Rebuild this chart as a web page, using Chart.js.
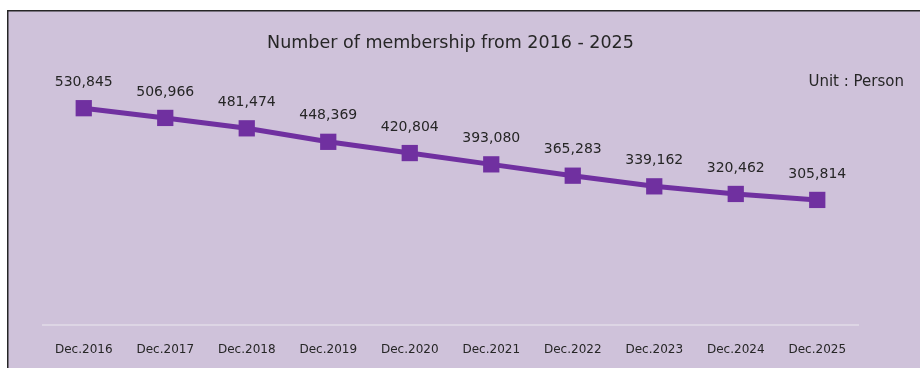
<!DOCTYPE html>
<html>
<head>
<meta charset="utf-8">
<script src="https://cdn.jsdelivr.net/npm/chart.js@4.4.0/dist/chart.umd.min.js"></script>
<style>
  html, body { margin: 0; padding: 0; background: #ffffff; }
  #wrap { position: absolute; left: 0; top: 0; width: 920px; height: 368px; }
</style>
</head>
<body>
<div id="wrap"><canvas id="chart" width="920" height="368"></canvas></div>
<script>
// Chart data
const categories = ['Dec.2016', 'Dec.2017', 'Dec.2018', 'Dec.2019', 'Dec.2020',
                    'Dec.2021', 'Dec.2022', 'Dec.2023', 'Dec.2024', 'Dec.2025'];
const members = [530845, 506966, 481474, 448369, 420804, 393080, 365283, 339162, 320462, 305814];
const titleText = 'Number of membership from 2016 - 2025';
const unitText = 'Unit : Person';

const FONT = '"DejaVu Sans", Tahoma, sans-serif';
const TEXT = '#262626';
const LINE = '#7030a0';

// background panel with dark top/left edge
const panelPlugin = {
    id: 'panel',
    beforeDraw(chart) {
        const ctx = chart.ctx;
        ctx.save();
        ctx.fillStyle = '#cfc2da';
        ctx.fillRect(8, 11, chart.width - 8, chart.height - 11);
        ctx.fillStyle = '#262626';
        ctx.fillRect(7, 10, chart.width - 7, 1.5);
        ctx.fillRect(7, 10, 1.5, chart.height - 10);
        ctx.restore();
    }
};

// value labels above each point + unit note
const labelPlugin = {
    id: 'valueLabels',
    afterDatasetsDraw(chart) {
        const ctx = chart.ctx;
        const meta = chart.getDatasetMeta(0);
        ctx.save();
        ctx.font = '14px ' + FONT;
        ctx.fillStyle = TEXT;
        ctx.textAlign = 'center';
        ctx.textBaseline = 'middle';
        meta.data.forEach((pt, i) => {
            ctx.fillText(members[i].toLocaleString('en-US'), pt.x, pt.y - 26);
        });
        ctx.textAlign = 'right';
        ctx.font = '15px ' + FONT;
        ctx.fillText(unitText, 904, 82);
        ctx.restore();
    }
};

new Chart(document.getElementById('chart'), {
    type: 'line',
    data: {
        labels: categories,
        datasets: [{
            data: members,
            borderColor: LINE,
            backgroundColor: LINE,
            borderWidth: 5,
            pointStyle: 'rect',
            pointRadius: 11.5,
            pointBorderWidth: 0,
            pointBackgroundColor: LINE,
            tension: 0,
            clip: false
        }]
    },
    options: {
        responsive: false,
        animation: false,
        layout: { autoPadding: false, padding: { left: 43, right: 62, top: 33, bottom: -7 } },
        plugins: {
            legend: { display: false },
            tooltip: { enabled: false },
            title: {
                display: true,
                text: titleText,
                color: TEXT,
                font: { family: FONT, size: 17.5, weight: 'normal' },
                padding: { top: 0, bottom: 26 }
            }
        },
        scales: {
            x: {
                offset: true,
                grid: { display: false, drawTicks: false },
                border: { display: true, color: '#ddd5e4', width: 2 },
                ticks: { color: TEXT, font: { family: FONT, size: 12 }, padding: 18, maxRotation: 0 }
            },
            y: {
                display: false,
                min: 0,
                max: 600000
            }
        }
    },
    plugins: [panelPlugin, labelPlugin]
});
</script>
</body>
</html>
